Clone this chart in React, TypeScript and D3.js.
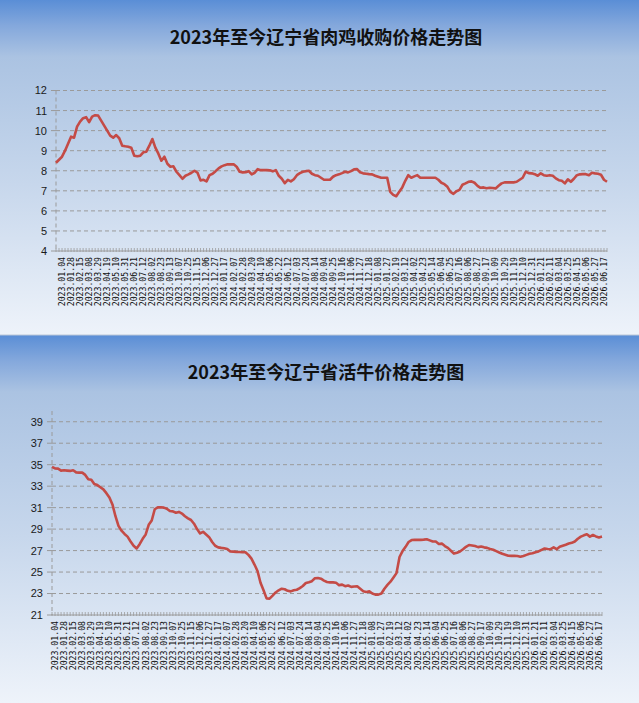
import * as d3 from "d3";

// x-axis labels, one every third week
const dateLabels = [
  "2023.01.04", "2023.01.28", "2023.02.15", "2023.03.08", "2023.03.29", "2023.04.19",
  "2023.05.10", "2023.05.31", "2023.06.21", "2023.07.12", "2023.08.02", "2023.08.23",
  "2023.09.13", "2023.10.07", "2023.10.25", "2023.11.15", "2023.12.06", "2023.12.27",
  "2024.01.17", "2024.02.07", "2024.02.28", "2024.03.20", "2024.04.10", "2024.05.06",
  "2024.05.22", "2024.06.12", "2024.07.03", "2024.07.24", "2024.08.14", "2024.09.04",
  "2024.09.25", "2024.10.16", "2024.11.06", "2024.11.27", "2024.12.18", "2025.01.08",
  "2025.01.27", "2025.02.19", "2025.03.12", "2025.04.02", "2025.04.23", "2025.05.14",
  "2025.06.04", "2025.06.25", "2025.07.16", "2025.08.06", "2025.08.27", "2025.09.17",
  "2025.10.09", "2025.10.29", "2025.11.19", "2025.12.10", "2025.12.31", "2026.01.21",
  "2026.02.11", "2026.03.04", "2026.03.25", "2026.04.15", "2026.05.06", "2026.05.27",
  "2026.06.17",
];

// 肉鸡收购价格 (元/公斤), weekly
const chickenPrice = [
  8.4, 8.55, 8.7, 9.0, 9.35, 9.7, 9.65, 10.2, 10.45, 10.62, 10.67, 10.42, 10.7, 10.77, 10.75,
  10.5, 10.25, 10.0, 9.75, 9.65, 9.78, 9.62, 9.25, 9.22, 9.2, 9.15, 8.75, 8.72, 8.75, 8.92,
  8.95, 9.25, 9.58, 9.15, 8.85, 8.5, 8.7, 8.35, 8.2, 8.22, 7.95, 7.78, 7.6, 7.75, 7.82,
  7.9, 8.0, 7.9, 7.52, 7.55, 7.47, 7.78, 7.85, 7.98, 8.12, 8.22, 8.28, 8.32, 8.32, 8.32,
  8.2, 7.95, 7.92, 7.93, 7.98, 7.82, 7.9, 8.08, 8.03, 8.03, 8.03, 8.02, 7.97, 8.03, 7.75,
  7.6, 7.38, 7.55, 7.47, 7.58, 7.78, 7.88, 7.95, 7.98, 8.0, 7.85, 7.78, 7.75, 7.65, 7.55,
  7.55, 7.55, 7.7, 7.78, 7.82, 7.88, 7.95, 7.92, 7.98, 8.07, 8.08, 7.92, 7.87, 7.85, 7.83,
  7.82, 7.75, 7.7, 7.65, 7.65, 7.65, 6.95, 6.8, 6.73, 6.95, 7.17, 7.5, 7.78, 7.65, 7.72,
  7.78, 7.65, 7.65, 7.65, 7.65, 7.65, 7.65, 7.55, 7.4, 7.33, 7.2, 6.95, 6.85, 6.98, 7.05,
  7.3, 7.37, 7.45, 7.47, 7.4, 7.25, 7.15, 7.17, 7.13, 7.15, 7.14, 7.12, 7.25, 7.37, 7.42,
  7.42, 7.42, 7.42, 7.45, 7.55, 7.65, 7.95, 7.88, 7.87, 7.83, 7.75, 7.87, 7.78, 7.75, 7.78,
  7.75, 7.62, 7.53, 7.5, 7.37, 7.57, 7.45, 7.6, 7.78, 7.82, 7.83, 7.83, 7.78, 7.9, 7.87,
  7.85, 7.8, 7.55, 7.45,
];

// 活牛价格 (元/公斤), weekly
const cattlePrice = [
  34.8, 34.65, 34.63, 34.45, 34.48, 34.45, 34.42, 34.48, 34.28, 34.26, 34.26, 34.05, 33.65,
  33.6, 33.2, 33.1, 32.9, 32.7, 32.35, 31.95, 31.3, 30.2, 29.3, 28.85, 28.55, 28.3, 27.85,
  27.45, 27.2, 27.6, 28.1, 28.5, 29.4, 29.8, 30.85, 31.02, 31.03, 31.0, 30.9, 30.68, 30.65,
  30.52, 30.6, 30.45, 30.2, 30.0, 29.85, 29.5, 29.0, 28.6, 28.75, 28.5, 28.25, 27.8, 27.45,
  27.3, 27.25, 27.22, 27.15, 26.92, 26.9, 26.88, 26.87, 26.85, 26.85, 26.6, 26.25, 25.7,
  25.1, 24.0, 23.3, 22.55, 22.52, 22.8, 23.1, 23.3, 23.45, 23.4, 23.25, 23.2, 23.3, 23.35,
  23.5, 23.7, 23.98, 24.05, 24.15, 24.42, 24.45, 24.38, 24.2, 24.08, 24.04, 24.04, 24.0,
  23.78, 23.83, 23.68, 23.75, 23.62, 23.65, 23.67, 23.45, 23.22, 23.15, 23.2, 23.0, 22.9,
  22.9, 23.0, 23.45, 23.8, 24.1, 24.5, 24.9, 26.4, 26.95, 27.35, 27.8, 27.98, 28.0, 28.0,
  28.0, 28.02, 28.06, 27.95, 27.84, 27.84, 27.62, 27.65, 27.42, 27.25, 26.98, 26.72, 26.8,
  26.92, 27.12, 27.35, 27.52, 27.48, 27.42, 27.32, 27.38, 27.3, 27.25, 27.15, 27.08, 26.95,
  26.82, 26.7, 26.62, 26.52, 26.51, 26.51, 26.5, 26.42, 26.5, 26.6, 26.7, 26.75, 26.85,
  26.92, 27.07, 27.2, 27.15, 27.13, 27.3, 27.13, 27.35, 27.45, 27.55, 27.66, 27.72, 27.85,
  28.1, 28.3, 28.42, 28.52, 28.3, 28.45, 28.32, 28.22, 28.3,
];

const chickenTicks = [4, 5, 6, 7, 8, 9, 10, 11, 12];
const cattleTicks = [21, 23, 25, 27, 29, 31, 33, 35, 37, 39];

const W = 639;
const H = 703;
const LINE = "#c44b46";
const GRID = "#9a9a9a";

interface PanelProps {
  id: string;
  title: string;
  values: number[];
  ticks: number[];
  yDomain: [number, number];
  panelTop: number;
  panelHeight: number;
  left: number;
  right: number;
  plotTop: number;
  plotBottom: number;
  firstLabel: number;
  titleY: number;
}

function Panel(p: PanelProps) {
  const x = d3
    .scaleLinear()
    .domain([0, p.values.length - 1])
    .range([p.left, p.right]);
  const y = d3.scaleLinear().domain(p.yDomain).range([p.plotBottom, p.plotTop]);
  const line = d3
    .line<number>()
    .x((_, i) => x(i))
    .y((d) => y(d));
  const base = y(p.yDomain[0]);
  const stopAt = 57 / p.panelHeight;

  return (
    <g>
      <defs>
        <linearGradient id={p.id} x1="0" y1="0" x2="0" y2="1">
          <stop offset="0" stopColor="#5a8ed6" />
          <stop offset={stopAt * 0.45} stopColor="#84a8dc" />
          <stop offset={stopAt} stopColor="#abc3e2" />
          <stop offset="0.55" stopColor="#c7d7ec" />
          <stop offset="1" stopColor="#eef3fa" />
        </linearGradient>
      </defs>
      <rect x={0} y={p.panelTop} width={W} height={p.panelHeight} fill={`url(#${p.id})`} />

      <text
        x={326}
        y={p.titleY}
        textAnchor="middle"
        fontFamily="'Noto Sans CJK SC', sans-serif"
        fontWeight="bold"
        fontSize={18}
        fill="#111"
      >
        {p.title}
      </text>

      {/* gridlines + y labels */}
      {p.ticks.map((t) => (
        <g key={t}>
          {t !== p.yDomain[0] && (
            <line
              x1={p.left}
              x2={p.right}
              y1={y(t)}
              y2={y(t)}
              stroke={GRID}
              strokeDasharray="4 3"
            />
          )}
          <line x1={p.left - 5} x2={p.left} y1={y(t)} y2={y(t)} stroke={GRID} />
          <text
            x={p.left - 9}
            y={y(t)}
            dy="0.36em"
            textAnchor="end"
            fontFamily="'Liberation Sans', Arial, sans-serif"
            fontSize={11}
            fill="#1a1a1a"
          >
            {t}
          </text>
        </g>
      ))}

      {/* y axis */}
      <line
        x1={p.left}
        x2={p.left}
        y1={p.plotTop}
        y2={base}
        stroke={GRID}
        strokeDasharray="4 3"
      />
      {/* x axis */}
      <line x1={p.left} x2={p.right} y1={base} y2={base} stroke={GRID} />
      {p.values.map((_, i) => (
        <line key={i} x1={x(i)} x2={x(i)} y1={base - 3} y2={base + 1} stroke={GRID} strokeWidth={0.8} />
      ))}

      {dateLabels.map((d, k) => {
        const lx = x(p.firstLabel + 3 * k);
        const ly = base + 6;
        return (
          <text
            key={d}
            transform={`translate(${lx},${ly}) rotate(-90)`}
            dy="0.35em"
            textAnchor="end"
            fontFamily="'DejaVu Sans Mono', 'Liberation Mono', monospace"
            fontSize={8.2}
            fill="#111"
          >
            {d}
          </text>
        );
      })}

      <path
        d={line(p.values) ?? ""}
        fill="none"
        stroke={LINE}
        strokeWidth={2.6}
        strokeLinejoin="round"
      />
    </g>
  );
}

export default function App() {
  return (
    <svg
      width={W}
      height={H}
      viewBox={`0 0 ${W} ${H}`}
      style={{ position: "absolute", left: 0, top: 0, display: "block" }}
    >
      <Panel
        id="bgChicken"
        title="2023年至今辽宁省肉鸡收购价格走势图"
        values={chickenPrice}
        ticks={chickenTicks}
        yDomain={[4, 12]}
        panelTop={0}
        panelHeight={335}
        left={56}
        right={607}
        plotTop={90.5}
        plotBottom={251}
        firstLabel={2}
        titleY={43.5}
      />
      <Panel
        id="bgCattle"
        title="2023年至今辽宁省活牛价格走势图"
        values={cattlePrice}
        ticks={cattleTicks}
        yDomain={[21, 40]}
        panelTop={335}
        panelHeight={368}
        left={52}
        right={602}
        plotTop={411}
        plotBottom={615}
        firstLabel={1}
        titleY={379}
      />
      <line x1={0} x2={W} y1={335} y2={335} stroke="#bcc8d8" />
    </svg>
  );
}
